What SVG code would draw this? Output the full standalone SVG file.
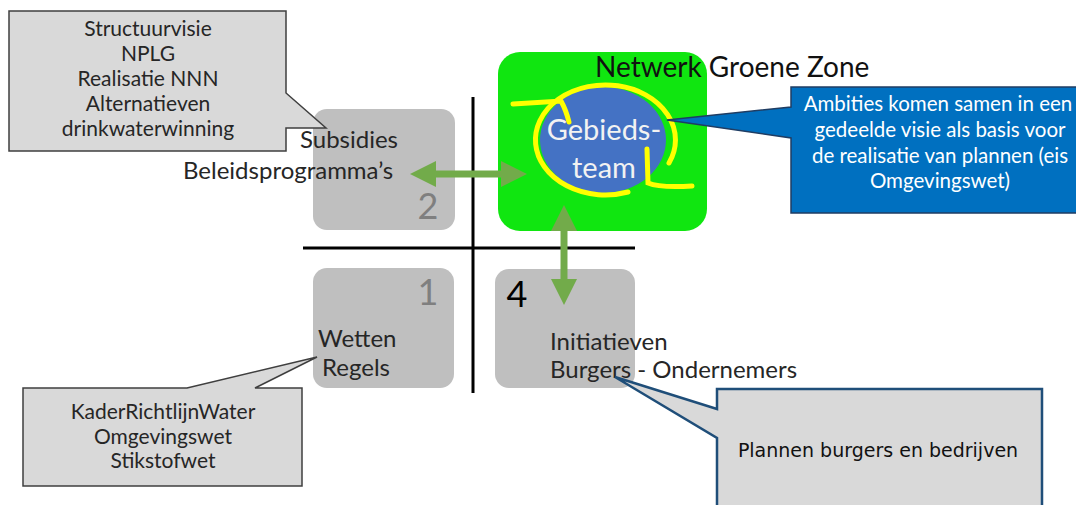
<svg xmlns="http://www.w3.org/2000/svg" width="1076" height="505" viewBox="0 0 1076 505">
<style>
.t{font-family:Lato,"Liberation Sans",sans-serif;}
.box{fill:#bfbfbf;}
.lbl{font-family:Lato,"Liberation Sans",sans-serif;font-size:24px;fill:#262626;}
.num{font-family:Lato,"Liberation Sans",sans-serif;font-size:36px;fill:#7f7f7f;}
.call{fill:#d9d9d9;stroke:#3f3f3f;stroke-width:1.5;}
.ctext{font-family:Lato,"Liberation Sans",sans-serif;font-size:21px;fill:#262626;text-anchor:middle;}
.axis{stroke:#000;stroke-width:3;}
.arrow{stroke:#72ab4a;stroke-width:7;fill:none;marker-start:url(#ah);marker-end:url(#ah);}
</style>
<defs>
<marker id="ah" viewBox="0 0 26 26" refX="0" refY="13" markerWidth="26" markerHeight="26" markerUnits="userSpaceOnUse" orient="auto-start-reverse">
<path d="M0,0 L26,13 L0,26 Z" fill="#72ab4a"/>
</marker>
</defs>
<rect width="1076" height="505" fill="#fff"/>

<g id="axes">
<line class="axis" x1="473" y1="97" x2="473" y2="393"/>
<line class="axis" x1="303" y1="248" x2="635" y2="248"/>
</g>

<g id="box2">
<rect class="box" x="313" y="109" width="142" height="121" rx="14"/>
<text class="num" x="428" y="219" text-anchor="middle">2</text>
<text class="lbl" x="300" y="148">Subsidies</text>
<text class="lbl" x="183" y="179">Beleidsprogramma’s</text>
</g>

<g id="box1">
<rect class="box" x="313" y="268" width="141" height="120" rx="14"/>
<text class="num" x="428" y="305" text-anchor="middle">1</text>
<text class="lbl" x="318" y="347">Wetten</text>
<text class="lbl" x="322" y="376">Regels</text>
</g>

<g id="box4">
<rect class="box" x="495" y="269" width="140" height="119" rx="14"/>
<text class="num" x="517" y="307" text-anchor="middle" style="fill:#000">4</text>
<text class="lbl" x="550" y="350">Initiatieven</text>
<text class="lbl" x="550" y="378">Burgers - Ondernemers</text>
</g>

<g id="groene-zone">
<rect x="498" y="52" width="209" height="179" rx="22" fill="#10e610"/>
<text class="t" x="595" y="77" font-size="28" fill="#111">Netwerk Groene Zone</text>
</g>

<g id="gebiedsteam">
<ellipse cx="603" cy="140" rx="63" ry="53" fill="#4472c4"/>
<g fill="none" stroke="#ffff00" stroke-width="5" stroke-linecap="round">
<path d="M628,192 A70,55 0 1,1 669,163"/>
<path d="M513,104 L561,101 Q566,110 569,122"/>
<path d="M647,149 L648,183 Q660,188 692,186"/>
</g>
<text class="t" x="604" y="140" font-size="29" fill="#f2f2f2" text-anchor="middle">Gebieds-</text>
<text class="t" x="604" y="178" font-size="29" fill="#f2f2f2" text-anchor="middle">team</text>
</g>

<g id="callout-top-left">
<path class="call" d="M9,11 L286,11 L286,93 L326,128 L286,128 L286,151 L9,151 Z"/>
<text class="ctext" x="148" y="36">Structuurvisie</text>
<text class="ctext" x="148" y="61">NPLG</text>
<text class="ctext" x="148" y="86">Realisatie NNN</text>
<text class="ctext" x="148" y="111">Alternatieven</text>
<text class="ctext" x="148" y="136">drinkwaterwinning</text>
</g>

<g id="callout-blue">
<path d="M791,87 L1095,87 L1095,213 L791,213 L791,138 L667,120 L791,107 Z" fill="#0070c0" stroke="#1f3d63" stroke-width="1.5"/>
<g class="t" font-size="20.5" fill="#fff" text-anchor="middle">
<text x="938" y="111">Ambities komen samen in een</text>
<text x="940" y="137">gedeelde visie als basis voor</text>
<text x="940" y="163">de realisatie van plannen (eis</text>
<text x="940" y="188">Omgevingswet)</text>
</g>
</g>

<g id="callout-bottom-left">
<path class="call" d="M23,388 L187,388 L317,357 L255,388 L302,388 L302,486 L23,486 Z"/>
<text class="ctext" x="163" y="419">KaderRichtlijnWater</text>
<text class="ctext" x="163" y="444">Omgevingswet</text>
<text class="ctext" x="163" y="468">Stikstofwet</text>
</g>

<g id="callout-bottom-right">
<path d="M717,389 L1042,389 L1042,512 L717,512 L717,438 L615,377 L717,409 Z" fill="#d9d9d9" stroke="#1f4e79" stroke-width="2.5"/>
<text x="878" y="457" font-family="'DejaVu Sans',Verdana,sans-serif" font-size="19" fill="#111" text-anchor="middle">Plannen burgers en bedrijven</text>
</g>

<g id="connectors">
<line class="arrow" x1="436" y1="174" x2="501" y2="174"/>
<line class="arrow" x1="564" y1="231" x2="564" y2="279"/>
</g>
</svg>
